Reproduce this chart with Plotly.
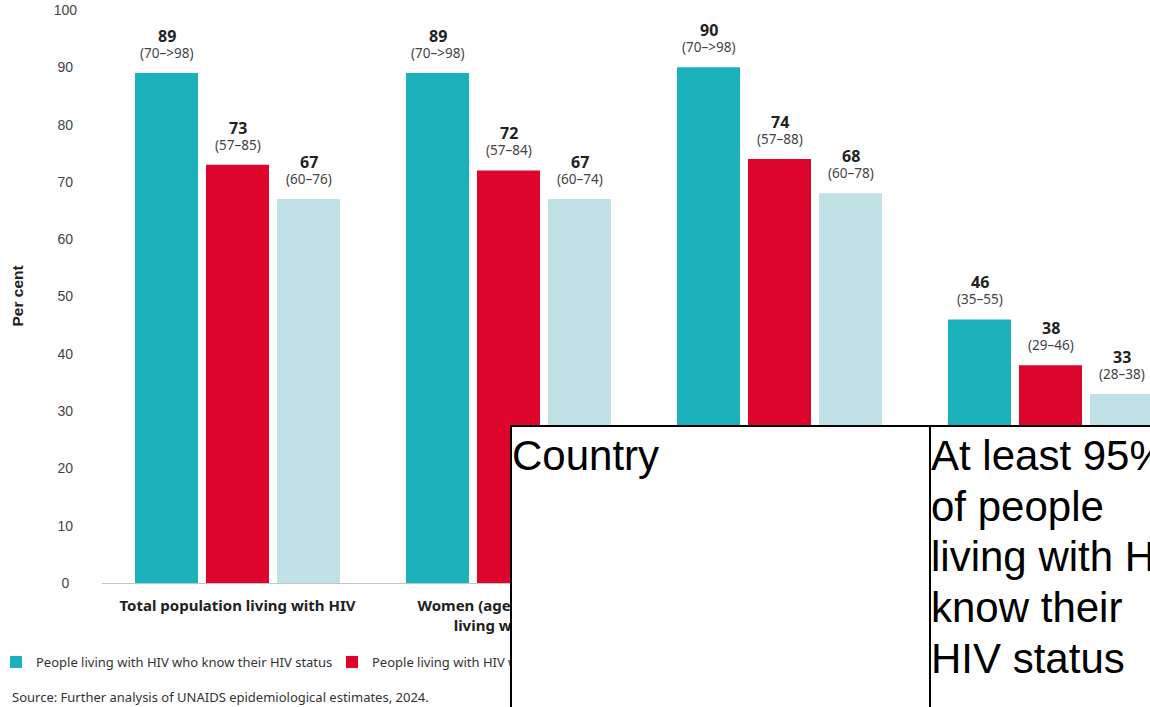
import plotly.graph_objects as go

# ---------------- data ----------------
categories = [
    "Total population living with HIV",
    "Women (aged 15+ years)<br>living with HIV",
    "Men (aged 15+ years)<br>living with HIV",
    "Children (aged 0–14 years)<br>living with HIV",
]
series_names = [
    "People living with HIV who know their HIV status",
    "People living with HIV who are on treatment",
    "People living with HIV who have suppressed viral loads",
]
know_status = [89, 89, 90, 46]
on_treatment = [73, 72, 74, 38]
suppressed = [67, 67, 68, 33]
know_ci = ["(70–>98)", "(70–>98)", "(70–>98)", "(35–55)"]
treat_ci = ["(57–85)", "(57–84)", "(57–88)", "(29–46)"]
supp_ci = ["(60–76)", "(60–74)", "(60–78)", "(28–38)"]
y_ticks = [0, 10, 20, 30, 40, 50, 60, 70, 80, 90, 100]
source_text = "Source: Further analysis of UNAIDS epidemiological estimates, 2024."
table_col1 = "Country"
table_col2_lines = ["At least 95%", "of people", "living with HIV", "know their", "HIV status"]

# ---------------- styling / geometry ----------------
W, H = 1150, 707
ML, MR, MT, MB = 102, 0, 10, 124
PW, PH = W - ML - MR, H - MT - MB
colors = ["#1bb1ba", "#dd052b", "#c0e1e5"]
BARGAP = 0.214
BARGROUPGAP = 0.113
slot = (1 - BARGAP) / 3
PX_PER_UNIT = 271.0
x_range = [-0.5, -0.5 + PW / PX_PER_UNIT]

def px_x(px):
    return (px - ML) / PW

def px_y(py):
    return (H - MB - py) / PH

xs = list(range(len(categories)))
fig = go.Figure()
all_vals = [know_status, on_treatment, suppressed]
all_ci = [know_ci, treat_ci, supp_ci]
for k, (name, vals) in enumerate(zip(series_names, all_vals)):
    fig.add_trace(go.Bar(x=xs, y=vals, name=name, marker_color=colors[k],
                         marker_line_width=0, hoverinfo="skip"))

annotations = []
VAL_FONT = dict(family="Noto Sans", size=16, color="#222222")
CI_FONT = dict(family="Noto Sans", size=13.5, color="#444444")
for k in range(3):
    off = (k - 1) * slot
    for i, v in enumerate(all_vals[k]):
        annotations.append(dict(x=xs[i] + off, y=v, xref="x", yref="y", text=f"<b>{v}</b>",
                                showarrow=False, yshift=37, yanchor="middle", font=VAL_FONT))
        annotations.append(dict(x=xs[i] + off, y=v, xref="x", yref="y", text=all_ci[k][i],
                                showarrow=False, yshift=20, yanchor="middle", font=CI_FONT))

# y-axis title
annotations.append(dict(x=px_x(17), y=0.5, xref="paper", yref="paper", text="<b>Per cent</b>",
                        textangle=-90, showarrow=False, xanchor="center", yanchor="middle",
                        font=dict(family="Liberation Sans", size=15.5, color="#222222")))
# source
annotations.append(dict(x=px_x(10), y=px_y(697), xref="paper", yref="paper", text=source_text,
                        showarrow=False, xanchor="left", yanchor="middle",
                        font=dict(family="Noto Sans", size=13, color="#333333")))

# overlaid table cells (white boxes with black border)
BW = 2
TOP = 424.7
annotations.append(dict(x=px_x(510), y=px_y(TOP), xref="paper", yref="paper", text=" ",
                        showarrow=False, xanchor="left", yanchor="top", width=416.5, height=400,
                        bgcolor="white", bordercolor="black", borderwidth=BW, borderpad=0))
annotations.append(dict(x=px_x(928.5), y=px_y(TOP), xref="paper", yref="paper", text=" ",
                        showarrow=False, xanchor="left", yanchor="top", width=400, height=400,
                        bgcolor="white", bordercolor="black", borderwidth=BW, borderpad=0))
TFONT = dict(family="Liberation Sans", size=42, color="black")
annotations.append(dict(x=px_x(511), y=px_y(455.4), xref="paper", yref="paper", text=table_col1,
                        showarrow=False, xanchor="left", yanchor="middle", font=TFONT,
                        borderpad=0))
for j, line in enumerate(table_col2_lines):
    annotations.append(dict(x=px_x(930), y=px_y(455.4 + j * 50.75), xref="paper", yref="paper",
                            text=line, showarrow=False, xanchor="left", yanchor="middle",
                            font=TFONT, borderpad=0))

fig.update_layout(
    width=W, height=H,
    margin=dict(l=ML, r=MR, t=MT, b=MB, autoexpand=False),
    paper_bgcolor="white", plot_bgcolor="white",
    barmode="group", bargap=BARGAP, bargroupgap=BARGROUPGAP,
    showlegend=True,
    legend=dict(orientation="h", xref="container", yref="container",
                x=0, y=(H - 662) / H, xanchor="left", yanchor="middle",
                font=dict(family="Noto Sans", size=13, color="#333333"),
                entrywidth=295, itemwidth=30, indentation=-4,
                bgcolor="rgba(0,0,0,0)", traceorder="normal"),
    xaxis=dict(range=x_range, tickvals=xs, ticktext=[f"<b>{c}</b>" for c in categories],
               showgrid=False, zeroline=False, showline=True, linecolor="#c4c4c4",
               linewidth=1, ticks="", ticklabelstandoff=9,
               tickfont=dict(family="Noto Sans", size=15, color="#222222")),
    yaxis=dict(range=[0, 100], tickvals=y_ticks,
               ticktext=["0\u2007"] + [f"{t}\u00a0" for t in y_ticks[1:-1]] + ["100"],
               showgrid=False, zeroline=False, showline=False, ticks="",
               ticklabelstandoff=24,
               tickfont=dict(family="Liberation Sans", size=14, color="#444444")),
    annotations=annotations,
)

fig.write_html("out.html", config={"displayModeBar": False, "responsive": False})
